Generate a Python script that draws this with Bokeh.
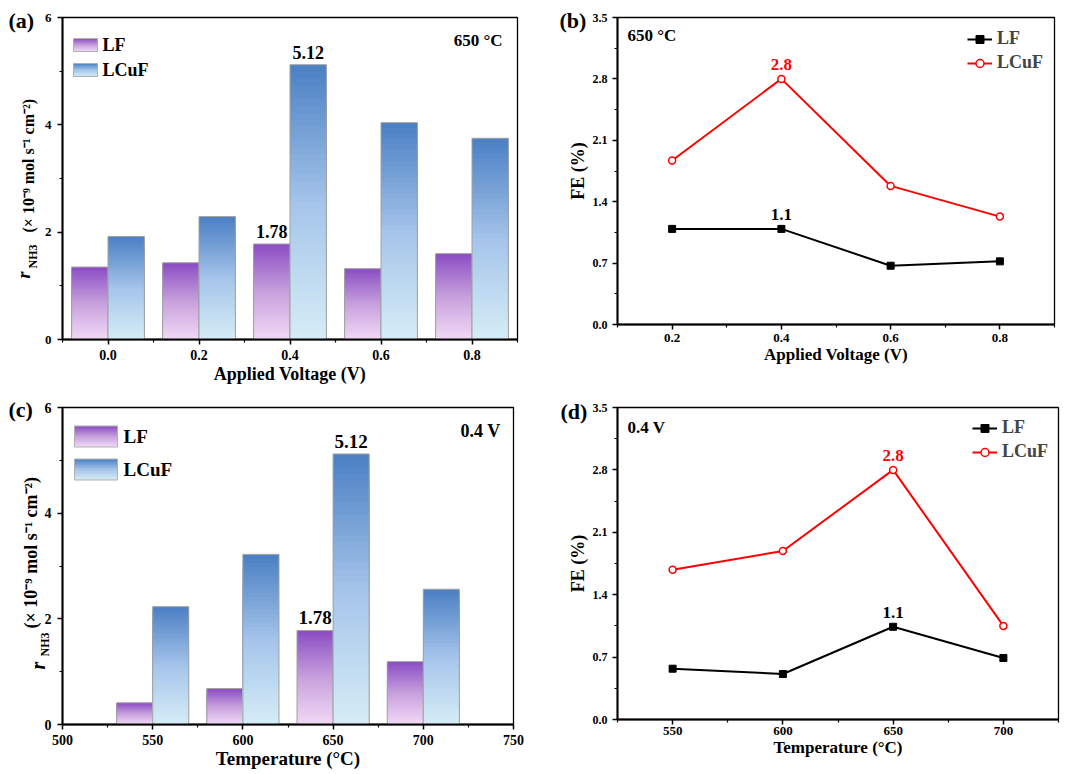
from bokeh.plotting import figure
from bokeh.models import (ColumnDataSource, Label, LabelSet, FixedTicker, Title,
                          PrintfTickFormatter, Legend, LegendItem, Range1d)
from bokeh.layouts import gridplot
from bokeh.embed import file_html
from bokeh.resources import INLINE

# ---------------- data ----------------
voltages = [0.0, 0.2, 0.4, 0.6, 0.8]
rate_lf_v = [1.35, 1.43, 1.78, 1.32, 1.60]
rate_lcuf_v = [1.92, 2.29, 5.12, 4.04, 3.75]

temps = [550, 600, 650, 700]
rate_lf_t = [0.41, 0.68, 1.78, 1.19]
rate_lcuf_t = [2.23, 3.22, 5.12, 2.56]

fe_voltages = [0.2, 0.4, 0.6, 0.8]
fe_lf_v = [1.09, 1.09, 0.67, 0.72]
fe_lcuf_v = [1.87, 2.80, 1.58, 1.23]

fe_temps = [550, 600, 650, 700]
fe_lf_t = [0.57, 0.51, 1.04, 0.69]
fe_lcuf_t = [1.68, 1.89, 2.80, 1.05]

peak_idx_v = 2          # 0.4 V
peak_idx_t = 2          # 650 C
bar_peak_labels = ["1.78", "5.12"]
fe_peak_labels = ["1.1", "2.8"]

v_ticks = [0.0, 0.2, 0.4, 0.6, 0.8]
v_minor = [-0.1, 0.1, 0.3, 0.5, 0.7, 0.9]
fe_v_ticks = [0.2, 0.4, 0.6, 0.8]
fe_v_minor = [0.1, 0.3, 0.5, 0.7, 0.9]
t_ticks = [500, 550, 600, 650, 700, 750]
t_minor = [525, 575, 625, 675, 725]
fe_t_ticks = [550, 600, 650, 700]
fe_t_minor = [525, 575, 625, 675, 725]
rate_ticks = [0, 2, 4, 6]
rate_minor = [1, 3, 5]
fe_ticks = [0.0, 0.7, 1.4, 2.1, 2.8, 3.5]
fe_minor = [0.35, 1.05, 1.75, 2.45, 3.15]

FONT = "Liberation Serif"
LF_STOPS = [(0.0, "#f2d9f6"), (0.5, "#c7a0dc"), (1.0, "#8a4cc4")]
LCUF_STOPS = [(0.0, "#d6edf6"), (0.5, "#a4c4ea"), (1.0, "#4a7fc3")]
LF_LINE = "black"
LCUF_LINE = "#ff0000"


def color_at(stops, f):
    for (f0, c0), (f1, c1) in zip(stops[:-1], stops[1:]):
        if f0 <= f <= f1:
            t = (f - f0) / (f1 - f0)
            a = [int(c0[i:i + 2], 16) for i in (1, 3, 5)]
            b = [int(c1[i:i + 2], 16) for i in (1, 3, 5)]
            return "#%02x%02x%02x" % tuple(round(a[j] + (b[j] - a[j]) * t) for j in range(3))
    return stops[-1][1]


def base_fig(fw, fh, bl, br, bt, bb, xr, yr, tag, tag_offset, tag_standoff):
    p = figure(frame_width=fw, frame_height=fh, min_border_left=bl, min_border_right=br,
               min_border_top=bt, min_border_bottom=bb,
               x_range=Range1d(*xr), y_range=Range1d(*yr),
               output_backend="svg", toolbar_location=None, tools="")
    p.grid.visible = False
    p.background_fill_color = "white"
    p.border_fill_color = "white"
    p.outline_line_color = "black"
    p.outline_line_width = 1.3
    p.title.text = tag
    p.title.align = "left"
    p.title.vertical_align = "bottom"
    p.title.offset = tag_offset
    p.title.standoff = tag_standoff
    p.title.text_font = FONT
    p.title.text_font_style = "bold"
    p.title.text_font_size = "22px"
    p.title.text_color = "black"
    for ax in (p.xaxis[0], p.yaxis[0]):
        ax.axis_line_width = 2
        ax.axis_line_color = "black"
        ax.major_tick_line_width = 1.5
        ax.minor_tick_line_width = 1.2
        ax.major_tick_in = 0
        ax.major_tick_out = 5
        ax.minor_tick_in = 0
        ax.minor_tick_out = 3
        ax.major_label_text_font = FONT
        ax.major_label_text_font_style = "bold"
        ax.major_label_text_font_size = "14px"
        ax.major_label_text_color = "black"
        ax.axis_label_text_font = FONT
        ax.axis_label_text_font_style = "bold"
        ax.axis_label_text_color = "black"
    return p


def gradient_bars(p, centers, values, width, stops, n=40):
    d = dict(left=[], right=[], top=[], bottom=[], color=[])
    for c, v in zip(centers, values):
        for k in range(n, 0, -1):
            d["left"].append(c - width / 2)
            d["right"].append(c + width / 2)
            d["bottom"].append(0)
            d["top"].append(v * k / n)
            d["color"].append(color_at(stops, (k - 0.5) / n))
    p.quad(source=ColumnDataSource(d), left="left", right="right", top="top",
           bottom="bottom", fill_color="color", line_color=None)
    p.quad(left=[c - width / 2 for c in centers], right=[c + width / 2 for c in centers],
           top=values, bottom=0, fill_color=None, line_color="#a0a0a0", line_width=1)


def swatch(p, xr, yr, fw, fh, px0, px1, py_center, h, stops, n=14):
    x0 = xr[0] + px0 / fw * (xr[1] - xr[0])
    x1 = xr[0] + px1 / fw * (xr[1] - xr[0])
    yt = yr[1] - (py_center - h / 2) / fh * (yr[1] - yr[0])
    yb = yr[1] - (py_center + h / 2) / fh * (yr[1] - yr[0])
    d = dict(left=[], right=[], top=[], bottom=[], color=[])
    for k in range(n, 0, -1):
        d["left"].append(x0)
        d["right"].append(x1)
        d["bottom"].append(yb)
        d["top"].append(yb + (yt - yb) * k / n)
        d["color"].append(color_at(stops, (k - 0.5) / n))
    p.quad(source=ColumnDataSource(d), left="left", right="right", top="top",
           bottom="bottom", fill_color="color", line_color=None)
    p.quad(left=[x0], right=[x1], top=[yt], bottom=[yb], fill_color=None,
           line_color="#b0b0b0", line_width=1)


def text_label(p, x, y, text, size, align="left", color="black", style="bold", baseline="middle"):
    p.add_layout(Label(x=x, y=y, x_units="screen", y_units="screen", text=text,
                       text_font=FONT, text_font_style=style, text_font_size=f"{size}px",
                       text_color=color, text_align=align, text_baseline=baseline))


def side_piece(p, text, size, style, offset, standoff):
    p.add_layout(Title(text=text, align="left", vertical_align="bottom", offset=offset,
                       standoff=int(round(standoff)), text_font=FONT,
                       text_font_size=f"{size}px", text_font_style=style,
                       text_color="black"), "left")


def rate_ylabel(p, pieces):
    # pieces: (text, size, style, offset along axis, standoff), inner -> outer
    for text, size, style, off, so in pieces:
        side_piece(p, text, size, style, off, so)


def line_series(p, xs, lf, lcuf):
    l1 = p.line(xs, lf, line_color=LF_LINE, line_width=2)
    s1 = p.scatter(xs, lf, marker="square", size=7, fill_color=LF_LINE, line_color=LF_LINE)
    l2 = p.line(xs, lcuf, line_color=LCUF_LINE, line_width=2)
    s2 = p.scatter(xs, lcuf, marker="circle", size=7, fill_color="white",
                   line_color=LCUF_LINE, line_width=1.5)
    return [l1, s1], [l2, s2]


def line_legend(p, r1, r2, margin):
    leg = Legend(items=[LegendItem(label="LF", renderers=r1),
                        LegendItem(label="LCuF", renderers=r2)],
                 location="top_right", margin=margin, padding=6, spacing=3,
                 glyph_width=25, glyph_height=20, label_height=20, label_standoff=5,
                 label_text_font=FONT, label_text_font_style="bold",
                 label_text_font_size="18px", label_text_baseline="middle",
                 background_fill_alpha=0, border_line_color=None)
    p.add_layout(leg)


PAREN = "(× 10⁻⁹ mol s⁻¹ cm⁻²)"

# ---------------- panel (a) ----------------
FWa, FHa = 455, 322
XRa, YRa = (-0.1, 0.9), (0, 6)
pa = base_fig(FWa, FHa, 57, 28, 17, 48, XRa, YRa, "(a)", -54, -30)
wa = 0.08
gradient_bars(pa, [v - wa / 2 for v in voltages], rate_lf_v, wa, LF_STOPS)
gradient_bars(pa, [v + wa / 2 for v in voltages], rate_lcuf_v, wa, LCUF_STOPS)
pa.add_layout(LabelSet(source=ColumnDataSource(dict(
    x=[voltages[peak_idx_v] - wa / 2, voltages[peak_idx_v] + wa / 2],
    y=[rate_lf_v[peak_idx_v], rate_lcuf_v[peak_idx_v]], t=bar_peak_labels)),
    x="x", y="y", text="t", y_offset=6, text_align="center",
    text_baseline="alphabetic", text_font=FONT, text_font_style="bold",
    text_font_size="18px", text_color="black"))
pa.xaxis.ticker = FixedTicker(ticks=v_ticks, minor_ticks=v_minor)
pa.yaxis.ticker = FixedTicker(ticks=rate_ticks, minor_ticks=rate_minor)
pa.xaxis.formatter = PrintfTickFormatter(format="%.1f")
pa.xaxis.axis_label = "Applied Voltage (V)"
pa.xaxis.axis_label_text_font_size = "18px"
pa.xaxis.major_label_standoff = 5
pa.xaxis.axis_label_standoff = 1
pa.yaxis.major_label_standoff = 6
pa.yaxis.major_label_text_font_size = "13px"
swatch(pa, XRa, YRa, FWa, FHa, 11, 35, 27.5, 13, LF_STOPS)
swatch(pa, XRa, YRa, FWa, FHa, 11, 35, 52.5, 13, LCUF_STOPS)
text_label(pa, 40, FHa - 27.5, "LF", 18)
text_label(pa, 40, FHa - 52.5, "LCuF", 18)
text_label(pa, FWa - 15, FHa - 23, "650 °C", 17, align="right")
rate_ylabel(pa, [("NH3", 12, "bold", 71, 3),
                 ("r", 18, "bold italic", 61, -23),
                 (PAREN, 16, "bold", 107, -29)])

# ---------------- panel (b) ----------------
FWb, FHb = 437, 307
pb = base_fig(FWb, FHb, 75, 28, 17, 63, (0.1, 0.9), (0, 3.5), "(b)", -58, -30)
r1, r2 = line_series(pb, fe_voltages, fe_lf_v, fe_lcuf_v)
pb.add_layout(LabelSet(source=ColumnDataSource(dict(
    x=[fe_voltages[1], fe_voltages[1]], y=[fe_lf_v[1], fe_lcuf_v[1]],
    t=fe_peak_labels, c=[LF_LINE, LCUF_LINE])),
    x="x", y="y", text="t", text_color="c", y_offset=9, text_align="center",
    text_baseline="alphabetic", text_font=FONT, text_font_style="bold",
    text_font_size="17px"))
pb.xaxis.ticker = FixedTicker(ticks=fe_v_ticks, minor_ticks=fe_v_minor)
pb.yaxis.ticker = FixedTicker(ticks=fe_ticks, minor_ticks=fe_minor)
pb.xaxis.formatter = PrintfTickFormatter(format="%.1f")
pb.yaxis.formatter = PrintfTickFormatter(format="%.1f")
pb.xaxis.axis_label = "Applied Voltage (V)"
pb.xaxis.axis_label_text_font_size = "17px"
pb.xaxis.major_label_text_font_size = "13px"
pb.xaxis.major_label_standoff = 4
pb.xaxis.axis_label_standoff = 0
pb.yaxis.axis_label = "FE (%)"
pb.yaxis.axis_label_text_font_size = "18px"
pb.yaxis.major_label_text_font_size = "12px"
pb.yaxis.major_label_standoff = 5
pb.yaxis.axis_label_standoff = 2
line_legend(pb, r1, r2, 11)
text_label(pb, 10, FHb - 18, "650 °C", 17)

# ---------------- panel (c) ----------------
FWc, FHc = 451, 317
XRc, YRc = (500, 750), (0, 6)
pc = base_fig(FWc, FHc, 62, 27, 18, 51, XRc, YRc, "(c)", -54, -29)
wc = 20
gradient_bars(pc, [t - wc / 2 for t in temps], rate_lf_t, wc, LF_STOPS)
gradient_bars(pc, [t + wc / 2 for t in temps], rate_lcuf_t, wc, LCUF_STOPS)
pc.add_layout(LabelSet(source=ColumnDataSource(dict(
    x=[temps[peak_idx_t] - wc / 2, temps[peak_idx_t] + wc / 2],
    y=[rate_lf_t[peak_idx_t], rate_lcuf_t[peak_idx_t]], t=bar_peak_labels)),
    x="x", y="y", text="t", y_offset=6, text_align="center",
    text_baseline="alphabetic", text_font=FONT, text_font_style="bold",
    text_font_size="19px", text_color="black"))
pc.xaxis.ticker = FixedTicker(ticks=t_ticks, minor_ticks=t_minor)
pc.yaxis.ticker = FixedTicker(ticks=rate_ticks, minor_ticks=rate_minor)
pc.xaxis.axis_label = "Temperature (°C)"
pc.xaxis.axis_label_text_font_size = "19px"
pc.xaxis.major_label_standoff = 5
pc.xaxis.axis_label_standoff = 0
pc.yaxis.major_label_standoff = 6
swatch(pc, XRc, YRc, FWc, FHc, 12, 55, 29, 21, LF_STOPS)
swatch(pc, XRc, YRc, FWc, FHc, 12, 55, 62, 21, LCUF_STOPS)
text_label(pc, 61, FHc - 29, "LF", 19)
text_label(pc, 61, FHc - 62, "LCuF", 19)
text_label(pc, FWc - 13, FHc - 23, "0.4 V", 18, align="right")
rate_ylabel(pc, [("NH3", 12, "bold", 68, -20),
                 ("r", 20, "bold italic", 55, -15),
                 (PAREN, 18, "bold", 96, -16)])

# ---------------- panel (d) ----------------
FWd, FHd = 441, 312
pd_ = base_fig(FWd, FHd, 77, 22, 20, 54, (525, 725), (0, 3.5), "(d)", -57, -32)
r1, r2 = line_series(pd_, fe_temps, fe_lf_t, fe_lcuf_t)
pd_.add_layout(LabelSet(source=ColumnDataSource(dict(
    x=[fe_temps[peak_idx_t], fe_temps[peak_idx_t]],
    y=[fe_lf_t[peak_idx_t], fe_lcuf_t[peak_idx_t]],
    t=fe_peak_labels, c=[LF_LINE, LCUF_LINE])),
    x="x", y="y", text="t", text_color="c", y_offset=9, text_align="center",
    text_baseline="alphabetic", text_font=FONT, text_font_style="bold",
    text_font_size="17px"))
pd_.xaxis.ticker = FixedTicker(ticks=fe_t_ticks, minor_ticks=fe_t_minor)
pd_.yaxis.ticker = FixedTicker(ticks=fe_ticks, minor_ticks=fe_minor)
pd_.yaxis.formatter = PrintfTickFormatter(format="%.1f")
pd_.xaxis.axis_label = "Temperature (°C)"
pd_.xaxis.axis_label_text_font_size = "17px"
pd_.xaxis.major_label_text_font_size = "13px"
pd_.xaxis.major_label_standoff = 2
pd_.xaxis.axis_label_standoff = 0
pd_.yaxis.axis_label = "FE (%)"
pd_.yaxis.axis_label_text_font_size = "18px"
pd_.yaxis.major_label_text_font_size = "12px"
pd_.yaxis.major_label_standoff = 5
pd_.yaxis.axis_label_standoff = 2
line_legend(pd_, r1, r2, 10)
text_label(pd_, 10, FHd - 20, "0.4 V", 17)

grid = gridplot([[pa, pb], [pc, pd_]], toolbar_location=None)

with open("out.html", "w") as f:
    f.write(file_html(grid, INLINE))
